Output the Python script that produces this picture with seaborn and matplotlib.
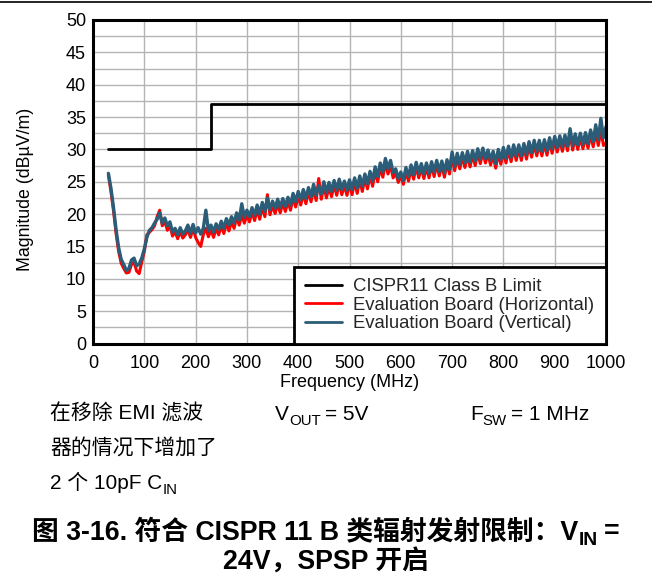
import numpy as np
import pandas as pd
import matplotlib
matplotlib.use("Agg")
import matplotlib.pyplot as plt
from matplotlib.lines import Line2D
from matplotlib.ticker import MultipleLocator
from matplotlib.transforms import IdentityTransform
import seaborn as sns

# Frequency grid of the scans (MHz), 5 MHz steps
freq_mhz = list(range(30, 1001, 5))

# Vertical-antenna scan (dBuV/m)
vertical = [
    26.3, 24.0, 21.0, 17.6, 14.8, 13.0, 12.2, 11.3, 11.6, 12.9,
    13.2, 12.0, 12.3, 13.2, 14.6, 16.4, 17.5, 17.9, 18.6, 19.2,
    20.2, 18.6, 19.4, 18.2, 18.8, 17.2, 17.8, 16.8, 17.9, 16.9,
    17.4, 18.3, 17.0, 18.4, 17.1, 17.9, 16.9, 17.8, 20.6, 17.4,
    18.3, 17.2, 18.5, 17.6, 18.9, 17.8, 19.3, 18.3, 19.6, 18.6,
    20.2, 19.1, 21.6, 19.5, 20.6, 19.6, 21.0, 19.8, 21.4, 20.0,
    21.8, 20.4, 22.5, 20.7, 22.0, 20.9, 22.3, 21.0, 22.4, 21.2,
    22.6, 21.4, 23.2, 21.9, 23.5, 22.2, 23.8, 22.4, 24.1, 22.7,
    24.6, 22.9, 24.4, 23.1, 25.0, 23.3, 24.9, 23.5, 25.2, 23.7,
    25.4, 23.8, 25.1, 23.7, 25.3, 23.8, 25.6, 24.0, 25.9, 24.3,
    26.2, 24.7, 26.6, 25.1, 27.3, 25.8, 27.9, 26.5, 28.6, 27.0,
    28.3, 26.4, 27.0, 25.5, 26.5, 25.2, 27.2, 25.8, 27.6, 26.1,
    28.0, 26.3, 27.8, 26.2, 27.9, 26.3, 28.1, 26.5, 28.3, 26.6,
    28.2, 26.4, 28.4, 26.9, 29.6, 27.4, 29.4, 27.7, 29.5, 27.9,
    29.7, 28.0, 29.8, 28.2, 30.1, 28.5, 30.2, 28.6, 29.9, 28.3,
    29.7, 27.8, 30.0, 28.4, 30.3, 28.6, 30.5, 28.8, 30.7, 29.0,
    30.7, 29.0, 30.9, 29.2, 31.2, 29.5, 31.4, 29.7, 31.4, 29.7,
    31.5, 29.8, 31.8, 30.1, 32.0, 30.3, 32.1, 30.4, 32.2, 30.5,
    33.2, 30.6, 32.4, 30.7, 32.5, 30.8, 32.6, 30.9, 33.0, 31.2,
    33.8, 31.5, 34.8, 31.8, 33.5,
]

# Horizontal-antenna scan (dBuV/m)
horizontal = [
    26.0, 23.5, 20.5, 17.0, 14.2, 12.4, 11.6, 10.9, 11.0, 12.2,
    12.6, 11.2, 10.8, 12.6, 14.2, 16.8, 17.2, 17.6, 18.2, 19.6,
    20.6, 18.2, 18.9, 17.5, 18.3, 16.6, 17.3, 16.2, 17.3, 16.3,
    16.8, 17.6, 16.4, 17.8, 16.4, 15.6, 15.0, 16.8, 17.8, 16.5,
    17.6, 16.4, 17.8, 16.8, 18.2, 17.0, 18.6, 17.4, 18.9, 17.8,
    19.5, 18.3, 19.9, 18.6, 19.9, 18.8, 20.4, 19.0, 20.7, 19.2,
    21.2, 19.6, 23.0, 19.9, 21.4, 20.1, 21.6, 20.2, 21.8, 20.4,
    22.0, 20.6, 22.6, 21.1, 22.8, 21.4, 23.2, 21.6, 23.5, 21.9,
    23.9, 22.1, 25.5, 22.3, 24.4, 22.5, 24.2, 22.7, 24.6, 22.9,
    24.8, 23.0, 24.5, 22.9, 24.7, 23.0, 25.0, 23.2, 25.3, 23.5,
    25.6, 23.9, 26.0, 24.3, 26.6, 25.0, 27.2, 25.7, 27.9, 26.2,
    27.6, 25.6, 26.4, 24.9, 25.9, 24.6, 26.6, 25.1, 27.0, 25.4,
    27.4, 25.6, 27.2, 25.5, 27.3, 25.6, 27.5, 25.8, 27.7, 25.9,
    27.6, 25.7, 27.8, 26.2, 29.0, 26.7, 28.8, 27.0, 28.9, 27.2,
    29.1, 27.3, 29.2, 27.5, 29.5, 27.8, 29.6, 27.9, 29.3, 27.6,
    29.1, 27.1, 29.4, 27.7, 29.7, 27.9, 29.9, 28.1, 30.1, 28.3,
    30.1, 28.3, 30.3, 28.5, 30.6, 28.8, 30.8, 29.0, 30.8, 29.0,
    30.9, 29.1, 31.2, 29.4, 31.4, 29.6, 31.5, 29.7, 31.6, 29.8,
    32.4, 29.9, 31.8, 30.0, 31.9, 30.1, 32.0, 30.2, 32.3, 30.4,
    32.6, 30.6, 33.0, 30.6, 31.0,
]

# CISPR 11 Class B radiated limit (step at 230 MHz)
limit_freq = [30, 230, 230, 1000]
limit_level = [30, 30, 37, 37]

x_ticks = list(range(0, 1001, 100))
y_ticks = list(range(0, 51, 5))

sns.set_theme(style="white")
plt.rcParams["font.family"] = ["Liberation Sans", "Noto Sans CJK SC"]

W, H = 652, 587
fig = plt.figure(figsize=(W / 100, H / 100), dpi=100)
ax = fig.add_axes([93 / W, 1 - 343.5 / H, 513 / W, 323.5 / H])

scan = pd.DataFrame({"freq": freq_mhz, "vertical": vertical, "horizontal": horizontal})
red = "#ff0000"
blue = "#2c5d78"

sns.lineplot(data=scan, x="freq", y="horizontal", ax=ax, color=red, lw=2.2)
sns.lineplot(data=scan, x="freq", y="vertical", ax=ax, color=blue, lw=2.4)
sns.lineplot(x=limit_freq, y=limit_level, ax=ax, color="black", lw=2.0,
             estimator=None, sort=False)

ax.set_xlim(0, 1000)
ax.set_ylim(0, 50)
ax.set_xticks(x_ticks)
ax.set_yticks(y_ticks)
ax.yaxis.set_minor_locator(MultipleLocator(2.5))
ax.grid(True, which="major", color="#b4b4b4", lw=1.0)
ax.grid(True, which="minor", axis="y", color="#b4b4b4", lw=1.0)
ax.set_axisbelow(True)
ax.tick_params(axis="both", which="both", length=0, labelsize=13, colors="black")
ax.tick_params(axis="x", pad=8)
ax.tick_params(axis="y", pad=5)
for s in ax.spines.values():
    s.set_color("black")
    s.set_linewidth(2.2)

ax.set_xlabel("Frequency (MHz)", fontsize=13, labelpad=2, color="black")
ax.set_ylabel("Magnitude (dBµV/m)", fontsize=12.8, color="black")
ax.yaxis.set_label_coords(-0.115, 0.475)

handles = [
    Line2D([], [], color="black", lw=2),
    Line2D([], [], color=red, lw=2),
    Line2D([], [], color=blue, lw=2),
]
labels = ["CISPR11 Class B Limit", "Evaluation Board (Horizontal)",
          "Evaluation Board (Vertical)"]
leg = ax.legend(handles, labels, loc="lower right", bbox_to_anchor=(1.0, 0.0),
                borderaxespad=0.0, fontsize=13.3, frameon=True, fancybox=False,
                handlelength=2.0, handletextpad=0.6, labelspacing=0.08,
                borderpad=0.62)
leg.get_frame().set_edgecolor("black")
leg.get_frame().set_linewidth(2.0)
leg.get_frame().set_facecolor("white")
leg.get_frame().set_alpha(1.0)

# Rule across the top of the page
fig.add_artist(Line2D([0, 1], [1 - 2 / H, 1 - 2 / H], color="black", lw=1.2,
                      transform=fig.transFigure))

renderer = fig.canvas.get_renderer()


def rich_text(x_px, baseline_px, runs, size, weight="normal", ha="left"):
    """Place a row of text runs (text, is_subscript, gap_after_px) in pixels."""
    arts = []
    widths = []
    for txt, sub, gap in runs:
        fs = size * 0.72 if sub else size
        t = fig.text(0, 0, txt, fontsize=fs, fontweight=weight, color="black",
                     ha="left", va="baseline", transform=IdentityTransform())
        arts.append((t, sub, gap))
        widths.append(t.get_window_extent(renderer).width)
    total = sum(widths) + sum(g for _, _, g in runs)
    x = x_px - total / 2 if ha == "center" else x_px
    y0 = H - baseline_px
    for (t, sub, gap), w in zip(arts, widths):
        dy = -size * 1.389 * 0.22 if sub else 0
        t.set_position((x, y0 + dy))
        x += w + gap


# Test conditions
cs = 15
rich_text(50, 420, [("在移除 EMI 滤波", False, 0)], cs)
rich_text(50, 454, [("器的情况下增加了", False, 0)], cs)
rich_text(50, 489, [("2 个 10pF C", False, 0), ("IN", True, 0)], cs)
rich_text(275, 420, [("V", False, 0), ("OUT", True, 4), ("= 5V", False, 0)], cs)
rich_text(470, 420, [("F", False, 0), ("SW", True, 4), ("= 1 MHz", False, 0)], cs)

# Figure caption
ps = 19.3
rich_text(326, 539, [("图 3-16. 符合 CISPR 11 B 类辐射发射限制：V", False, 0),
                     ("IN", True, 6), ("=", False, 0)], ps, weight="bold", ha="center")
rich_text(326, 570, [("24V，SPSP 开启", False, 0)], ps, weight="bold", ha="center")

fig.savefig("out.png", dpi=100)
